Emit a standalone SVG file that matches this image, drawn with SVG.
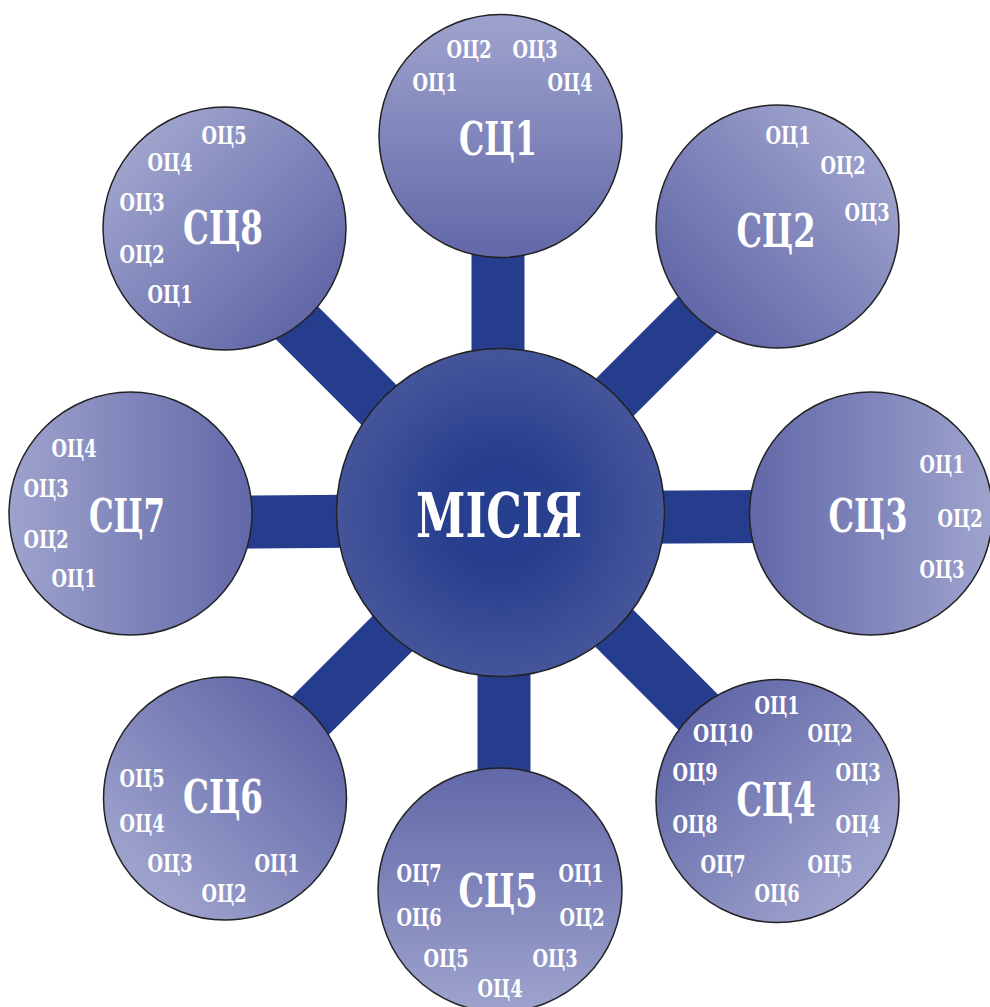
<svg xmlns="http://www.w3.org/2000/svg" width="990" height="1007" viewBox="0 0 990 1007">
<style>
text{font-family:"DejaVu Serif Condensed","DejaVu Serif","Liberation Serif",serif;font-stretch:condensed;font-weight:bold;fill:#ffffff;text-anchor:middle}
.s{font-size:24.5px}
.b{font-size:46px}
.m{font-size:62px}
.sat{stroke:#222222;stroke-width:1.5}
.bar{stroke:#253d8c;stroke-width:53;fill:none}
</style>
<defs>
<radialGradient id="gm" cx="0.5" cy="0.5" r="0.5">
<stop offset="0" stop-color="#253f8f"/>
<stop offset="0.35" stop-color="#283f8e"/>
<stop offset="1" stop-color="#45559b"/>
</radialGradient>
<linearGradient id="g1" x1="0.5" y1="1" x2="0.5" y2="0"><stop offset="0" stop-color="#6268a8"/><stop offset="1" stop-color="#9ea3cd"/></linearGradient>
<linearGradient id="g2" x1="0.15" y1="0.85" x2="0.85" y2="0.15"><stop offset="0" stop-color="#6268a8"/><stop offset="1" stop-color="#9ea3cd"/></linearGradient>
<linearGradient id="g3" x1="0" y1="0.5" x2="1" y2="0.5"><stop offset="0" stop-color="#6268a8"/><stop offset="1" stop-color="#9ea3cd"/></linearGradient>
<linearGradient id="g4" x1="0.15" y1="0.15" x2="0.85" y2="0.85"><stop offset="0" stop-color="#6268a8"/><stop offset="1" stop-color="#9ea3cd"/></linearGradient>
<linearGradient id="g5" x1="0.5" y1="0" x2="0.5" y2="1"><stop offset="0" stop-color="#6268a8"/><stop offset="1" stop-color="#9ea3cd"/></linearGradient>
<linearGradient id="g6" x1="0.85" y1="0.15" x2="0.15" y2="0.85"><stop offset="0" stop-color="#6268a8"/><stop offset="1" stop-color="#9ea3cd"/></linearGradient>
<linearGradient id="g7" x1="1" y1="0.5" x2="0" y2="0.5"><stop offset="0" stop-color="#6268a8"/><stop offset="1" stop-color="#9ea3cd"/></linearGradient>
<linearGradient id="g8" x1="0.85" y1="0.85" x2="0.15" y2="0.15"><stop offset="0" stop-color="#6268a8"/><stop offset="1" stop-color="#9ea3cd"/></linearGradient>
</defs>
<rect width="990" height="1007" fill="#ffffff"/>
<g id="connectors">
<line class="bar" x1="498" y1="136" x2="498" y2="512"/>
<line class="bar" x1="790" y1="222" x2="500" y2="512"/>
<line class="bar" x1="871" y1="516" x2="500" y2="518"/>
<line class="bar" x1="500" y1="514" x2="787" y2="801"/>
<line class="bar" x1="504" y1="512" x2="504" y2="890"/>
<line class="bar" x1="225" y1="801" x2="500" y2="526"/>
<line class="bar" x1="130" y1="523" x2="500" y2="520"/>
<line class="bar" x1="224" y1="250" x2="490" y2="516"/>
</g>
<g id="mission">
<circle cx="500.5" cy="512.5" r="164" fill="url(#gm)" class="sat"/>
<text class="m" x="499" y="537" textLength="166" lengthAdjust="spacingAndGlyphs">МІСІЯ</text>
</g>
<g id="sc1">
<circle cx="500.5" cy="136" r="121.5" fill="url(#g1)" class="sat"/>
<text class="b" x="498" y="155" textLength="78" lengthAdjust="spacingAndGlyphs">СЦ1</text>
<text class="s" x="469" y="58" textLength="45" lengthAdjust="spacingAndGlyphs">ОЦ2</text>
<text class="s" x="535" y="58" textLength="45" lengthAdjust="spacingAndGlyphs">ОЦ3</text>
<text class="s" x="435" y="91" textLength="45" lengthAdjust="spacingAndGlyphs">ОЦ1</text>
<text class="s" x="570" y="91" textLength="45" lengthAdjust="spacingAndGlyphs">ОЦ4</text>
</g>
<g id="sc2">
<circle cx="777.5" cy="226.5" r="121.5" fill="url(#g2)" class="sat"/>
<text class="b" x="776" y="247" textLength="79" lengthAdjust="spacingAndGlyphs">СЦ2</text>
<text class="s" x="788" y="144" textLength="45" lengthAdjust="spacingAndGlyphs">ОЦ1</text>
<text class="s" x="843" y="174" textLength="45" lengthAdjust="spacingAndGlyphs">ОЦ2</text>
<text class="s" x="867" y="221" textLength="45" lengthAdjust="spacingAndGlyphs">ОЦ3</text>
</g>
<g id="sc3">
<circle cx="871" cy="513.5" r="121.5" fill="url(#g3)" class="sat"/>
<text class="b" x="868" y="532" textLength="79" lengthAdjust="spacingAndGlyphs">СЦ3</text>
<text class="s" x="942" y="473" textLength="45" lengthAdjust="spacingAndGlyphs">ОЦ1</text>
<text class="s" x="960" y="527" textLength="45" lengthAdjust="spacingAndGlyphs">ОЦ2</text>
<text class="s" x="942" y="578" textLength="45" lengthAdjust="spacingAndGlyphs">ОЦ3</text>
</g>
<g id="sc4">
<circle cx="777.5" cy="801" r="121.5" fill="url(#g4)" class="sat"/>
<text class="b" x="776" y="816" textLength="79" lengthAdjust="spacingAndGlyphs">СЦ4</text>
<text class="s" x="777" y="714" textLength="45" lengthAdjust="spacingAndGlyphs">ОЦ1</text>
<text class="s" x="723" y="742" textLength="60" lengthAdjust="spacingAndGlyphs">ОЦ10</text>
<text class="s" x="830" y="742" textLength="45" lengthAdjust="spacingAndGlyphs">ОЦ2</text>
<text class="s" x="695" y="781" textLength="45" lengthAdjust="spacingAndGlyphs">ОЦ9</text>
<text class="s" x="858" y="781" textLength="45" lengthAdjust="spacingAndGlyphs">ОЦ3</text>
<text class="s" x="695" y="833" textLength="45" lengthAdjust="spacingAndGlyphs">ОЦ8</text>
<text class="s" x="858" y="833" textLength="45" lengthAdjust="spacingAndGlyphs">ОЦ4</text>
<text class="s" x="723" y="873" textLength="45" lengthAdjust="spacingAndGlyphs">ОЦ7</text>
<text class="s" x="830" y="873" textLength="45" lengthAdjust="spacingAndGlyphs">ОЦ5</text>
<text class="s" x="777" y="902" textLength="45" lengthAdjust="spacingAndGlyphs">ОЦ6</text>
</g>
<g id="sc5">
<circle cx="500" cy="890" r="122" fill="url(#g5)" class="sat"/>
<text class="b" x="498" y="907" textLength="79" lengthAdjust="spacingAndGlyphs">СЦ5</text>
<text class="s" x="419" y="882" textLength="45" lengthAdjust="spacingAndGlyphs">ОЦ7</text>
<text class="s" x="581" y="882" textLength="45" lengthAdjust="spacingAndGlyphs">ОЦ1</text>
<text class="s" x="419" y="926" textLength="45" lengthAdjust="spacingAndGlyphs">ОЦ6</text>
<text class="s" x="582" y="926" textLength="45" lengthAdjust="spacingAndGlyphs">ОЦ2</text>
<text class="s" x="446" y="967" textLength="45" lengthAdjust="spacingAndGlyphs">ОЦ5</text>
<text class="s" x="555" y="967" textLength="45" lengthAdjust="spacingAndGlyphs">ОЦ3</text>
<text class="s" x="500" y="997" textLength="45" lengthAdjust="spacingAndGlyphs">ОЦ4</text>
</g>
<g id="sc6">
<circle cx="225" cy="798.5" r="121.5" fill="url(#g6)" class="sat"/>
<text class="b" x="223" y="813" textLength="80" lengthAdjust="spacingAndGlyphs">СЦ6</text>
<text class="s" x="142" y="787" textLength="45" lengthAdjust="spacingAndGlyphs">ОЦ5</text>
<text class="s" x="142" y="832" textLength="45" lengthAdjust="spacingAndGlyphs">ОЦ4</text>
<text class="s" x="170" y="872" textLength="45" lengthAdjust="spacingAndGlyphs">ОЦ3</text>
<text class="s" x="277" y="872" textLength="45" lengthAdjust="spacingAndGlyphs">ОЦ1</text>
<text class="s" x="224" y="902" textLength="45" lengthAdjust="spacingAndGlyphs">ОЦ2</text>
</g>
<g id="sc7">
<circle cx="130.5" cy="513.5" r="121.5" fill="url(#g7)" class="sat"/>
<text class="b" x="127" y="532" textLength="76" lengthAdjust="spacingAndGlyphs">СЦ7</text>
<text class="s" x="74" y="457" textLength="45" lengthAdjust="spacingAndGlyphs">ОЦ4</text>
<text class="s" x="46" y="497" textLength="45" lengthAdjust="spacingAndGlyphs">ОЦ3</text>
<text class="s" x="46" y="548" textLength="45" lengthAdjust="spacingAndGlyphs">ОЦ2</text>
<text class="s" x="74" y="587" textLength="45" lengthAdjust="spacingAndGlyphs">ОЦ1</text>
</g>
<g id="sc8">
<circle cx="224.5" cy="228.5" r="121.5" fill="url(#g8)" class="sat"/>
<text class="b" x="223" y="244" textLength="80" lengthAdjust="spacingAndGlyphs">СЦ8</text>
<text class="s" x="224" y="144" textLength="45" lengthAdjust="spacingAndGlyphs">ОЦ5</text>
<text class="s" x="170" y="171" textLength="45" lengthAdjust="spacingAndGlyphs">ОЦ4</text>
<text class="s" x="142" y="211" textLength="45" lengthAdjust="spacingAndGlyphs">ОЦ3</text>
<text class="s" x="142" y="263" textLength="45" lengthAdjust="spacingAndGlyphs">ОЦ2</text>
<text class="s" x="170" y="303" textLength="45" lengthAdjust="spacingAndGlyphs">ОЦ1</text>
</g>
</svg>
